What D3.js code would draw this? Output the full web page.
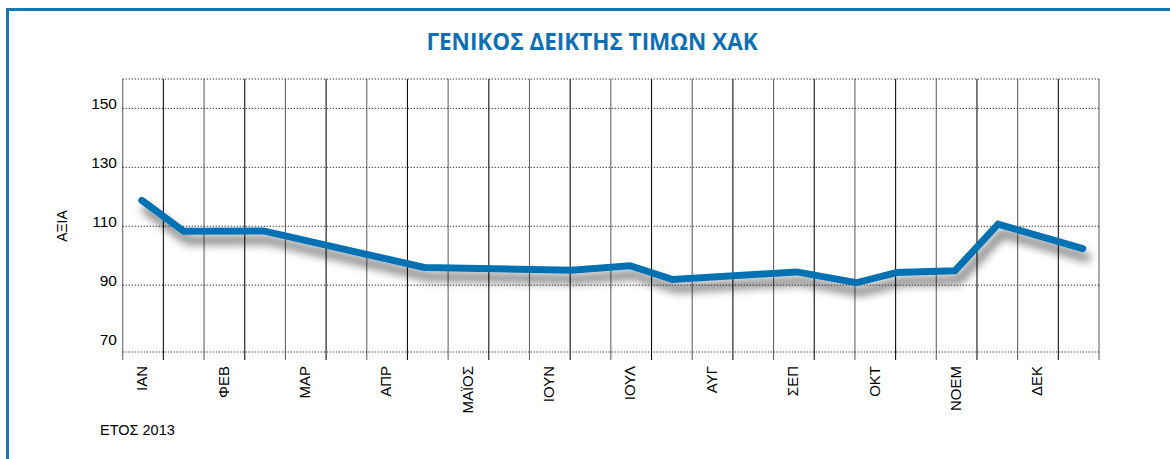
<!DOCTYPE html>
<html>
<head>
<meta charset="utf-8">
<script src="https://cdn.jsdelivr.net/npm/d3@7"></script>
<style>
  body { margin: 0; background: #fff; }
  text { font-family: "Liberation Sans", Arial, sans-serif; fill: #000; }
</style>
</head>
<body>
<div id="visualization"></div>
<script>
// position on the half-month grid (0..24) and index value
var positions = [0.47, 1.5, 3.46, 7.41, 11.04, 12.47, 13.52, 16.57, 18.03, 19.03, 20.46, 21.52, 23.6];
var values = [118.8, 108.3, 108.4, 96.0, 95.1, 96.6, 91.9, 94.5, 90.8, 94.3, 94.9, 110.7, 102.4];

var months = ['ΙΑΝ', 'ΦΕΒ', 'ΜΑΡ', 'ΑΠΡ', 'ΜΑΪΟΣ', 'ΙΟΥΝ', 'ΙΟΥΛ', 'ΑΥΓ', 'ΣΕΠ', 'ΟΚΤ', 'ΝΟΕΜ', 'ΔΕΚ'];
var yTicks = [150, 130, 110, 90, 70];
var yGrid = [150, 130, 110, 90];

var width = 1170, height = 459;

var svg = d3.select("#visualization")
    .append("svg")
    .attr("width", width)
    .attr("height", height);

// drop shadow for the line
var defs = svg.append("defs");
var filter = defs.append("filter")
    .attr("id", "shadow")
    .attr("x", "-10%").attr("y", "-50%")
    .attr("width", "120%").attr("height", "200%");
filter.append("feGaussianBlur").attr("in", "SourceAlpha").attr("stdDeviation", 5).attr("result", "blur");
filter.append("feOffset").attr("in", "blur").attr("dx", 4).attr("dy", 9).attr("result", "off");
filter.append("feFlood").attr("flood-color", "#000").attr("flood-opacity", 0.6);
filter.append("feComposite").attr("in2", "off").attr("operator", "in").attr("result", "sh");
var merge = filter.append("feMerge");
merge.append("feMergeNode").attr("in", "sh");
merge.append("feMergeNode").attr("in", "SourceGraphic");

// frame (left + top)
svg.append("path")
    .attr("d", "M7.5," + height + "V9.5H" + width)
    .attr("fill", "none")
    .attr("stroke", "#1677b7")
    .attr("stroke-width", 3);

svg.append("text")
    .attr("x", 592)
    .attr("y", 50)
    .attr("text-anchor", "middle")
    .style("font-family", "'Open Sans', sans-serif")
    .style("font-weight", "bold")
    .style("font-size", "22.5px")
    .style("fill", "#0e70b3")
    .text("ΓΕΝΙΚΟΣ ΔΕΙΚΤΗΣ ΤΙΜΩΝ ΧΑΚ");

var x = d3.scaleLinear().domain([0, 24]).range([122.7, 1099]);
var y = d3.scaleLinear().domain([67.3, 160]).range([352, 79]);

var grid = svg.append("g").attr("class", "grid");

// vertical lines every half month
grid.selectAll("line.v")
    .data(d3.range(0, 25))
    .enter().append("line")
    .attr("class", "v")
    .attr("x1", function (d) { return x(d); })
    .attr("x2", function (d) { return x(d); })
    .attr("y1", y(160))
    .attr("y2", y(67.3) + 8)
    .attr("stroke", function (d) { return d % 2 ? "#111" : "#666"; })
    .attr("stroke-width", 1.1);

// dotted horizontal lines
grid.selectAll("line.h")
    .data([160].concat(yGrid).concat([67.3]))
    .enter().append("line")
    .attr("class", "h")
    .attr("x1", x(0))
    .attr("x2", x(24))
    .attr("y1", function (d) { return y(d); })
    .attr("y2", function (d) { return y(d); })
    .attr("stroke", "#222")
    .attr("stroke-width", 1)
    .attr("stroke-dasharray", "1.2,1.8");

svg.append("g")
    .selectAll("text")
    .data(yTicks)
    .enter().append("text")
    .attr("x", 117)
    .attr("y", function (d) { return y(d) + 0.5; })
    .attr("text-anchor", "end")
    .style("font-size", "15.5px")
    .text(function (d) { return d; });

svg.append("text")
    .attr("transform", "translate(67,226) rotate(-90)")
    .attr("text-anchor", "middle")
    .style("font-size", "14px")
    .text("ΑΞΙΑ");

svg.append("g")
    .selectAll("text")
    .data(months)
    .enter().append("text")
    .attr("transform", function (d, i) {
        return "translate(" + (x(i * 2 + 0.47) + 5.5) + "," + 366 + ") rotate(-90)";
    })
    .attr("text-anchor", "end")
    .style("font-size", "15px")
    .text(function (d) { return d; });

svg.append("text")
    .attr("x", 100)
    .attr("y", 435)
    .style("font-size", "14.5px")
    .text("ΕΤΟΣ 2013");

var line = d3.line()
    .x(function (d, i) { return x(positions[i]); })
    .y(function (d) { return y(d); });

svg.append("path")
    .datum(values)
    .attr("d", line)
    .attr("fill", "none")
    .attr("stroke", "#0071b3")
    .attr("stroke-width", 7)
    .attr("stroke-linejoin", "miter")
    .attr("stroke-linecap", "round")
    .attr("filter", "url(#shadow)");
</script>
</body>
</html>
